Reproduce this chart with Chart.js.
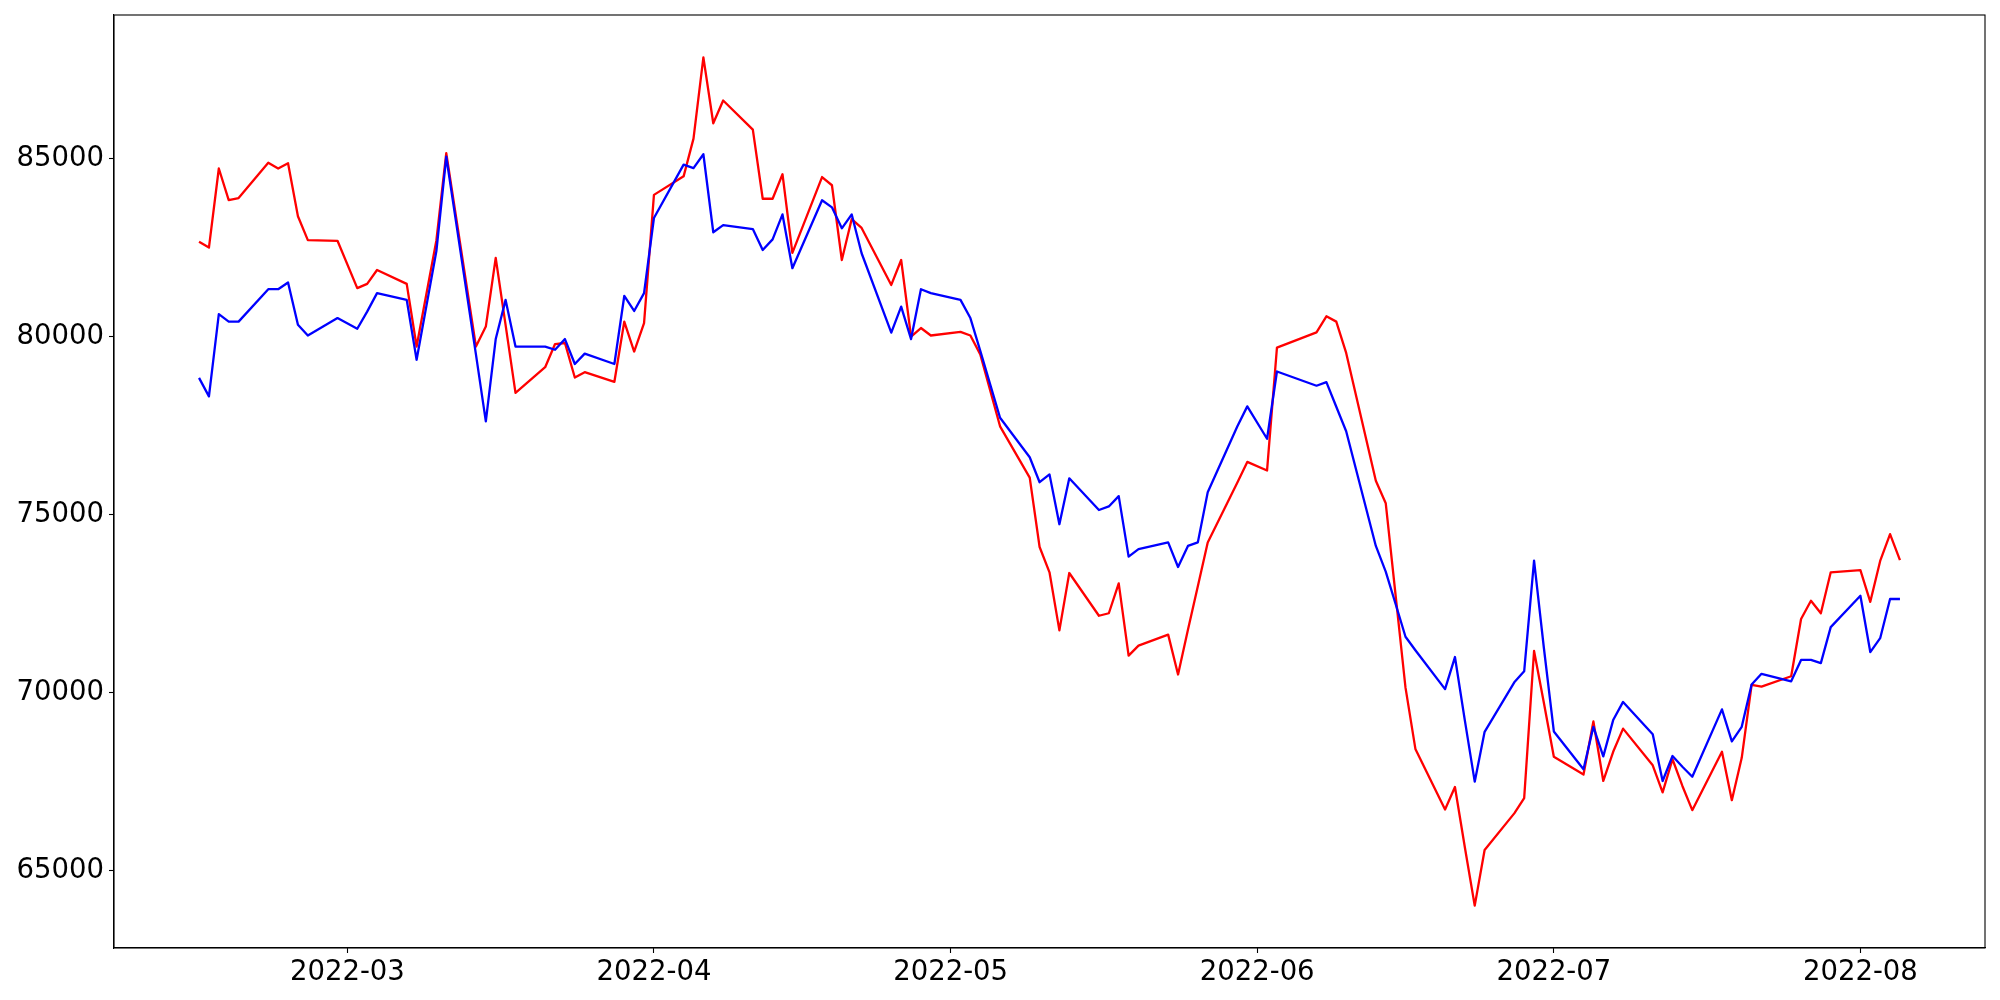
<!DOCTYPE html>
<html>
<head>
<meta charset="utf-8">
<script src="https://cdn.jsdelivr.net/npm/chart.js@4/dist/chart.umd.min.js"></script>
<style>
  html, body { margin: 0; padding: 0; background: #fff; }
  canvas { display: block; }
</style>
</head>
<body>
<canvas id="priceChart" width="2000" height="1000"></canvas>
<script>
// trading days
const dates = [
    '2022-02-14','2022-02-15','2022-02-16','2022-02-17','2022-02-18','2022-02-21','2022-02-22','2022-02-23','2022-02-24','2022-02-25','2022-02-28',
    '2022-03-02','2022-03-03','2022-03-04','2022-03-07','2022-03-08','2022-03-10','2022-03-11','2022-03-14','2022-03-15','2022-03-16','2022-03-17','2022-03-18',
    '2022-03-21','2022-03-22','2022-03-23','2022-03-24','2022-03-25','2022-03-28','2022-03-29','2022-03-30','2022-03-31',
    '2022-04-01','2022-04-04','2022-04-05','2022-04-06','2022-04-07','2022-04-08','2022-04-11','2022-04-12','2022-04-13','2022-04-14','2022-04-15',
    '2022-04-18','2022-04-19','2022-04-20','2022-04-21','2022-04-22','2022-04-25','2022-04-26','2022-04-27','2022-04-28','2022-04-29',
    '2022-05-02','2022-05-03','2022-05-04','2022-05-06','2022-05-09','2022-05-10','2022-05-11','2022-05-12','2022-05-13','2022-05-16','2022-05-17',
    '2022-05-18','2022-05-19','2022-05-20','2022-05-23','2022-05-24','2022-05-25','2022-05-26','2022-05-27','2022-05-30','2022-05-31',
    '2022-06-02','2022-06-03','2022-06-07','2022-06-08','2022-06-09','2022-06-10','2022-06-13','2022-06-14','2022-06-15','2022-06-16','2022-06-17',
    '2022-06-20','2022-06-21','2022-06-22','2022-06-23','2022-06-24','2022-06-27','2022-06-28','2022-06-29','2022-06-30',
    '2022-07-01','2022-07-04','2022-07-05','2022-07-06','2022-07-07','2022-07-08','2022-07-11','2022-07-12','2022-07-13','2022-07-14','2022-07-15',
    '2022-07-18','2022-07-19','2022-07-20','2022-07-21','2022-07-22','2022-07-25','2022-07-26','2022-07-27','2022-07-28','2022-07-29',
    '2022-08-01','2022-08-02','2022-08-03','2022-08-04','2022-08-05'
];

// red line
const redValues = [
    82660, 82500, 84720, 83830, 83890, 84880, 84720, 84870, 83380, 82710, 82690,
    81360, 81480, 81870, 81480, 79720, 82700, 85150, 79720, 80280, 82210, 80320, 78420,
    79140, 79790, 79820, 78850, 79000, 78730, 80420, 79580, 80380,
    83980, 84500, 85560, 87840, 85990, 86630, 85810, 83870, 83870, 84560, 82350,
    84480, 84250, 82150, 83300, 83050, 81450, 82150, 80000, 80240, 80030,
    80130, 80030, 79500, 77480, 76040, 74090, 73380, 71750, 73360, 72160, 72230,
    73070, 71040, 71320, 71630, 70510, 71770, 72990, 74220, 75900, 76480,
    76240, 79690, 80120, 80570, 80420, 79540, 75950, 75320, 72730, 70140, 68420,
    66720, 67350, 65660, 64020, 65580, 66610, 67040, 71170, 69700,
    68200, 67700, 69190, 67520, 68340, 68990, 67960, 67200, 68130, 67380, 66700,
    68340, 66980, 68170, 70220, 70170, 70460, 72070, 72580, 72230, 73380,
    73440, 72550, 73700, 74450, 73720
];

// blue line
const blueValues = [
    78840, 78320, 80630, 80420, 80420, 81330, 81330, 81520, 80330, 80030, 80520,
    80220, 80700, 81220, 81030, 79350, 82400, 85050, 79500, 77620, 79930, 81030, 79720,
    79720, 79630, 79930, 79230, 79520, 79230, 81140, 80720, 81220,
    83330, 84830, 84730, 85120, 82930, 83130, 83020, 82430, 82730, 83430, 81920,
    83830, 83630, 83040, 83430, 82340, 80110, 80840, 79930, 81330, 81220,
    81030, 80520, 79600, 77720, 76610, 75910, 76130, 74730, 76020, 75130, 75230,
    75520, 73820, 74030, 74220, 73530, 74120, 74220, 75630, 77480, 78040,
    77130, 79020, 78620, 78720, 78030, 77340, 74120, 73400, 72490, 71570, 71190,
    70100, 71000, 69220, 67500, 68900, 70290, 70600, 73710, 71240,
    68910, 67850, 69040, 68210, 69230, 69740, 68830, 67520, 68220, 67920, 67640,
    69530, 68630, 69040, 70230, 70530, 70320, 70920, 70920, 70830, 71840,
    72720, 71140, 71530, 72630, 72630
];

const monthTicks = ['2022-03', '2022-04', '2022-05', '2022-06', '2022-07', '2022-08'];
const yTicks = [65000, 70000, 75000, 80000, 85000];

function toDay(s) {
    const p = s.split('-').map(Number);
    return Date.UTC(p[0], p[1] - 1, p[2] || 1) / 86400000;
}

function labelOf(day) {
    const d = new Date(day * 86400000);
    return d.getUTCFullYear() + '-' + String(d.getUTCMonth() + 1).padStart(2, '0');
}

const days = dates.map(toDay);
const redPoints = days.map((x, i) => ({ x: x, y: redValues[i] }));
const bluePoints = days.map((x, i) => ({ x: x, y: blueValues[i] }));

// matplotlib style 5% margins
const xMin = Math.min(...days), xMax = Math.max(...days);
const allY = redValues.concat(blueValues);
const yMin = Math.min(...allY), yMax = Math.max(...allY);
const xPad = (xMax - xMin) * 0.05, yPad = (yMax - yMin) * 0.05;

const tickFont = { family: 'DejaVu Sans', size: 27.5 };

// frame around the plot area
const frame = {
    id: 'frame',
    afterDraw(chart) {
        const a = chart.chartArea;
        const ctx = chart.ctx;
        ctx.save();
        ctx.strokeStyle = '#000';
        ctx.lineWidth = 1.1;
        ctx.strokeRect(a.left, a.top, a.right - a.left, a.bottom - a.top);
        ctx.restore();
    }
};

new Chart(document.getElementById('priceChart'), {
    type: 'line',
    data: {
        datasets: [{
            data: redPoints,
            borderColor: 'red',
            borderWidth: 2.3,
            pointRadius: 0,
            tension: 0,
            borderJoinStyle: 'round',
            fill: false,
            order: 2
        }, {
            data: bluePoints,
            borderColor: 'blue',
            borderWidth: 2.3,
            pointRadius: 0,
            tension: 0,
            borderJoinStyle: 'round',
            fill: false,
            order: 1
        }]
    },
    options: {
        responsive: false,
        animation: false,
        layout: { padding: { left: 0, right: 15, top: 15, bottom: 0 } },
        plugins: {
            legend: { display: false },
            tooltip: { enabled: false }
        },
        scales: {
            x: {
                type: 'linear',
                min: xMin - xPad,
                max: xMax + xPad,
                afterBuildTicks: function(scale) {
                    scale.ticks = monthTicks.map(m => ({ value: toDay(m) }));
                },
                afterFit: function(scale) {
                    scale.height = 52;
                    scale.paddingLeft = 0;
                    scale.paddingRight = 0;
                },
                ticks: {
                    font: tickFont,
                    color: '#000',
                    padding: 3,
                    maxRotation: 0,
                    autoSkip: false,
                    callback: function(value) { return labelOf(value); }
                },
                grid: { drawOnChartArea: false, tickLength: 5, tickColor: '#000', tickWidth: 1.1 },
                border: { display: true, color: '#000', width: 1.1 }
            },
            y: {
                min: yMin - yPad,
                max: yMax + yPad,
                afterBuildTicks: function(scale) {
                    scale.ticks = yTicks.map(v => ({ value: v }));
                },
                afterFit: function(scale) {
                    scale.width = 114;
                    scale.paddingTop = 0;
                    scale.paddingBottom = 0;
                },
                ticks: {
                    font: tickFont,
                    color: '#000',
                    padding: 5,
                    callback: function(value) { return String(value); }
                },
                grid: { drawOnChartArea: false, tickLength: 5, tickColor: '#000', tickWidth: 1.1 },
                border: { display: true, color: '#000', width: 1.1 }
            }
        }
    },
    plugins: [frame]
});
</script>
</body>
</html>
